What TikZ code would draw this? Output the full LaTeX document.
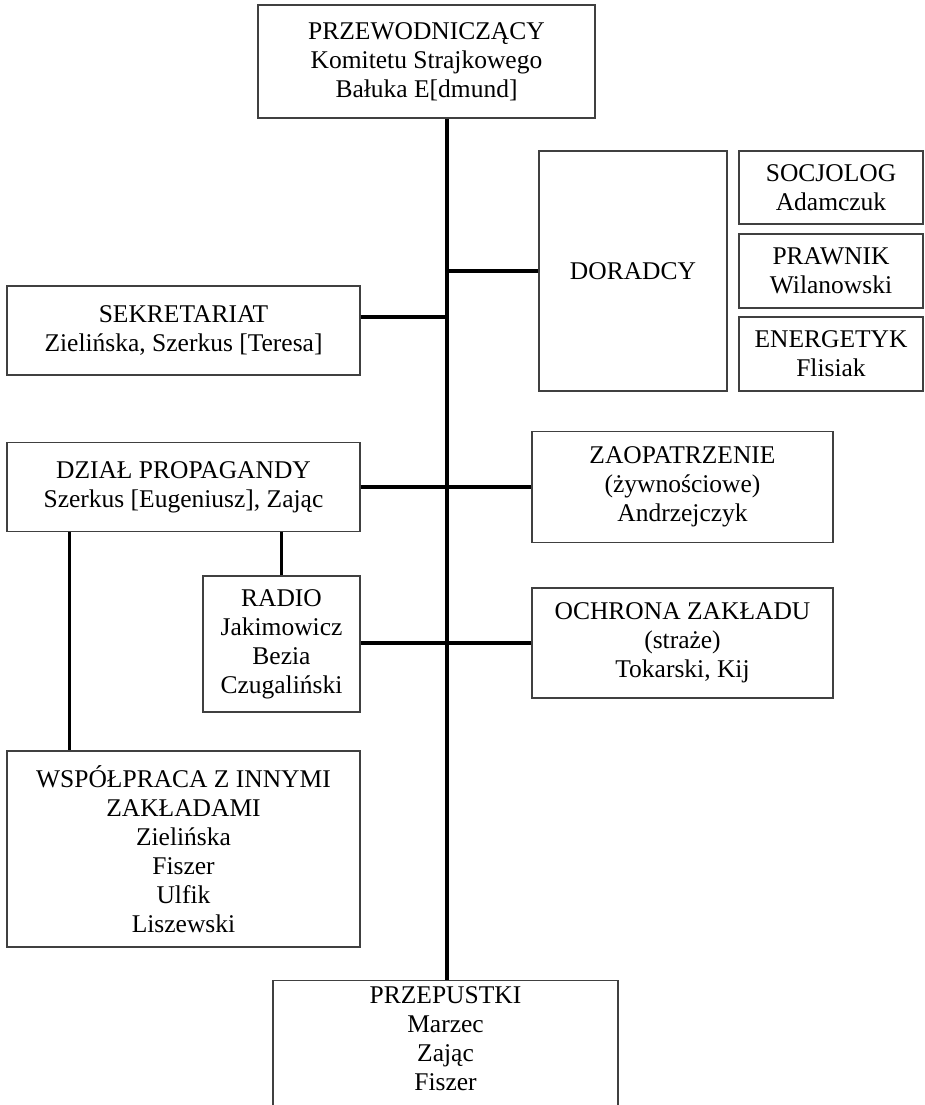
\documentclass[tikz,border=0pt]{standalone}
\usepackage{fontspec}
\setmainfont{Liberation Serif}
\usetikzlibrary{calc}
\begin{document}
\begin{tikzpicture}[x=1pt,y=-1pt,
        unit/.style={draw=black!75,line width=1.3pt,align=center,inner sep=3pt,
                font=\fontsize{25.5}{29}\selectfont},
        link/.style={line width=3.2pt}]
        \useasboundingbox (0,0) rectangle (924,1105);
        \clip (0,0) rectangle (924,1105);
        \coordinate (spine) at (447,0);
        % top
        \node[unit,minimum width=337pt,minimum height=113pt] (przew) at (426.5,61.5)
                {PRZEWODNICZĄCY\\Komitetu Strajkowego\\Bałuka E[dmund]};
        % advisers
        \node[unit,minimum width=188pt,minimum height=240pt] (doradcy) at (633,271) {DORADCY};
        \node[unit,minimum width=184pt,minimum height=73pt] (socjolog) at (831,187.5)
                {SOCJOLOG\\Adamczuk};
        \node[unit,minimum width=184pt,minimum height=74pt] (prawnik) at (831,271)
                {PRAWNIK\\Wilanowski};
        \node[unit,minimum width=184pt,minimum height=74pt] (energetyk) at (831,354)
                {ENERGETYK\\Flisiak};
        % left column
        \node[unit,minimum width=353pt,minimum height=89pt] (sekretariat) at (183.5,330.5)
                {SEKRETARIAT\\Zielińska, Szerkus [Teresa]};
        \node[unit,minimum width=353pt,minimum height=89pt] (propaganda) at (183.5,487)
                {DZIAŁ PROPAGANDY\\Szerkus [Eugeniusz], Zając};
        \node[unit,minimum width=157pt,minimum height=136pt] (radio) at (281.5,644)
                {RADIO\\Jakimowicz\\Bezia\\Czugaliński};
        \node[unit,minimum width=353pt,minimum height=196pt] (wspolpraca) at (183.5,849)
                {WSPÓŁPRACA Z INNYMI\\ZAKŁADAMI\\Zielińska\\Fiszer\\Ulfik\\Liszewski};
        % right column
        \node[unit,minimum width=301pt,minimum height=111pt] (zaopatrzenie) at (682.5,487)
                {ZAOPATRZENIE\\(żywnościowe)\\Andrzejczyk};
        \node[unit,minimum width=301pt,minimum height=110pt] (ochrona) at (682.5,643)
                {OCHRONA ZAKŁADU\\(straże)\\Tokarski, Kij};
        % bottom
        \node[unit,anchor=north,inner ysep=6pt,text depth=12pt,minimum width=345pt] (przepustki)
                at (445.5,980) {PRZEPUSTKI\\Marzec\\Zając\\Fiszer};
        \draw[link] (przew.south -| spine) -- (przepustki.north -| spine);
        \draw[link] (doradcy.west) -- (doradcy.west -| spine);
        \draw[link] ($(sekretariat.north east)!0.35!(sekretariat.south east)$) coordinate (sek)
                -- (sek -| spine);
        \draw[link] (propaganda.east) -- (zaopatrzenie.west);
        \draw[link] (ochrona.west) -- (ochrona.west -| radio.east);
        \draw[link] (radio.north) -- (radio.north |- propaganda.south);
        \draw[link] ($(propaganda.south west)+(63,0)$) coordinate (wsp)
                -- (wsp |- wspolpraca.north);
\end{tikzpicture}
\end{document}
